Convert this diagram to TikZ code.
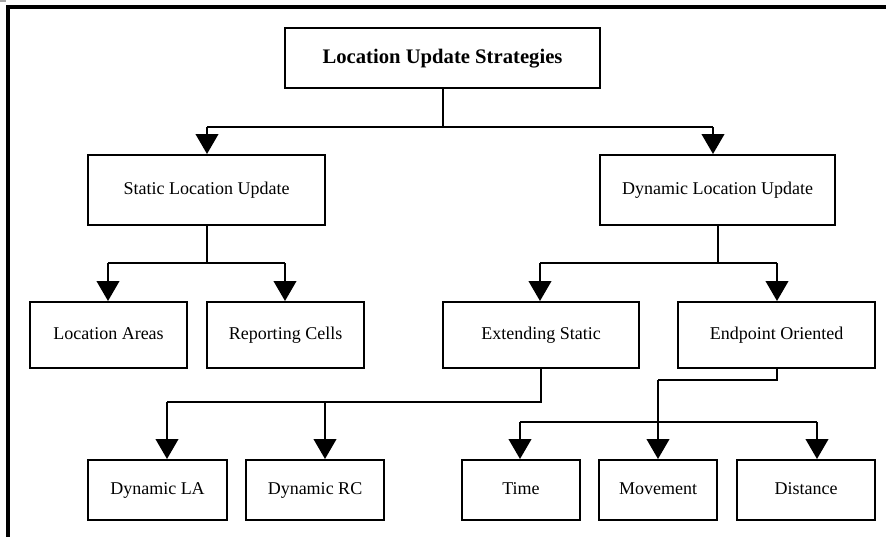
\documentclass[tikz,border=0pt]{standalone}
\usepackage{fontspec}
\setmainfont{Liberation Serif}
\usetikzlibrary{arrows.meta}
\begin{document}
\begin{tikzpicture}[x=0.75pt,y=-0.75pt,
  box/.style={draw,line width=1.5pt,minimum width=#1*0.75pt,inner sep=0pt,text height=9.5pt,text depth=3pt,font=\fontsize{13.5}{15}\selectfont},
  conn/.style={line width=1.5pt},
  arr/.style={line width=1.5pt,-{Triangle[width=17pt,length=15pt]}}]
\useasboundingbox (0,0) rectangle (886,537);
\fill[gray!70] (0,0) rectangle (6,2);
\draw[line width=2.3pt] (886,7) -- (8,7) -- (8,537);
% nodes
\node[box=315,minimum height=45pt,text height=11pt,text depth=3.5pt,font=\fontsize{15.5}{17}\selectfont\bfseries] (root) at (442.5,58) {Location Update Strategies};
\node[box=237,minimum height=52.5pt] (stat) at (206.5,190) {Static Location Update};
\node[box=235,minimum height=52.5pt] (dyn) at (717.5,190) {Dynamic Location Update};
\node[box=157,minimum height=49.5pt] (la) at (108.5,335) {Location Areas};
\node[box=157,minimum height=49.5pt] (rc) at (285.5,335) {Reporting Cells};
\node[box=196,minimum height=49.5pt] (es) at (541,335) {Extending Static};
\node[box=197,minimum height=49.5pt] (eo) at (776.5,335) {Endpoint Oriented};
\node[box=139,minimum height=45pt] (dla) at (157.5,490) {Dynamic LA};
\node[box=138,minimum height=45pt] (drc) at (315,490) {Dynamic RC};
\node[box=118,minimum height=45pt] (time) at (521,490) {Time};
\node[box=118,minimum height=45pt] (mov) at (658,490) {Movement};
\node[box=138,minimum height=45pt] (dist) at (806,490) {Distance};
% branch coordinates
\coordinate (j0) at (442.5,127);
\coordinate (a0l) at (207,127);
\coordinate (a0r) at (713,127);
\coordinate (j1) at (206.5,263);
\coordinate (a1l) at (108,263);
\coordinate (a1r) at (285,263);
\coordinate (j2) at (717.5,263);
\coordinate (a2l) at (540,263);
\coordinate (a2r) at (777,263);
\coordinate (j3) at (541,402);
\coordinate (a3l) at (167,402);
\coordinate (a3r) at (325,402);
\coordinate (j4) at (776.5,380);
\coordinate (a4m) at (658,380);
\coordinate (a4l) at (520,422);
\coordinate (a4r) at (817,422);
% connectors
\draw[conn] (root.south) -- (j0);
\draw[conn] (a0l) -- (a0r);
\draw[arr] (a0l) -- (stat.north -| a0l);
\draw[arr] (a0r) -- (dyn.north -| a0r);
\draw[conn] (stat.south) -- (j1);
\draw[conn] (a1l) -- (a1r);
\draw[arr] (a1l) -- (la.north -| a1l);
\draw[arr] (a1r) -- (rc.north -| a1r);
\draw[conn] (dyn.south) -- (j2);
\draw[conn] (a2l) -- (a2r);
\draw[arr] (a2l) -- (es.north -| a2l);
\draw[arr] (a2r) -- (eo.north -| a2r);
\draw[conn] (es.south) -- (j3) -- (a3l);
\draw[arr] (a3l) -- (dla.north -| a3l);
\draw[arr] (a3r) -- (drc.north -| a3r);
\draw[conn] (eo.south) -- (j4) -- (a4m);
\draw[arr] (a4m) -- (mov.north -| a4m);
\draw[conn] (a4l) -- (a4r);
\draw[arr] (a4l) -- (time.north -| a4l);
\draw[arr] (a4r) -- (dist.north -| a4r);
\end{tikzpicture}
\end{document}
